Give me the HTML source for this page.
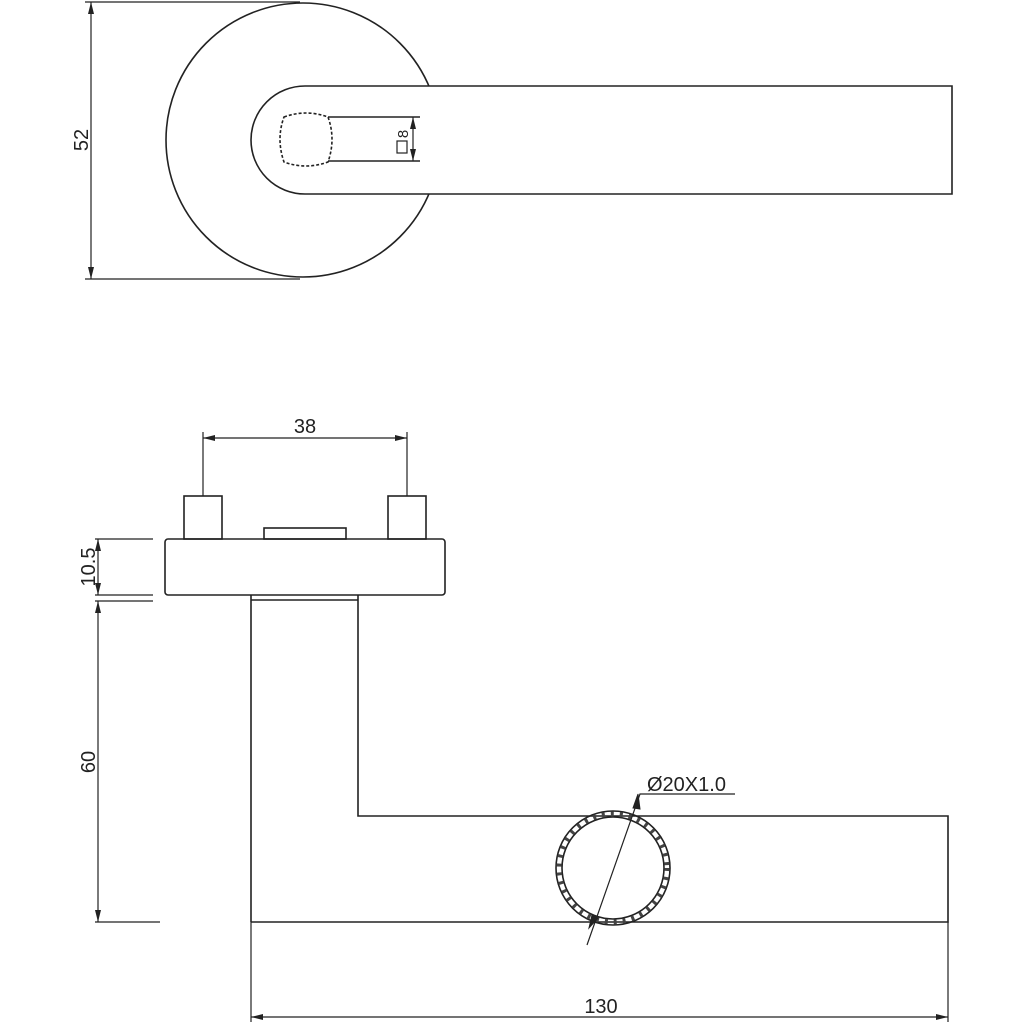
<!DOCTYPE html>
<html><head><style>html,body{margin:0;padding:0;background:#fff}svg{display:block}</style></head>
<body>
<svg width="1024" height="1024" viewBox="0 0 1024 1024" xmlns="http://www.w3.org/2000/svg" font-family="Liberation Sans, sans-serif">
<defs>
<marker id="a" viewBox="0 0 12 6" refX="12" refY="3" markerWidth="12" markerHeight="6" markerUnits="userSpaceOnUse" orient="auto-start-reverse"><path d="M0,0 L12,3 L0,6 Z" fill="#222"/></marker>
<mask id="m"><rect width="1024" height="1024" fill="#fff"/><path d="M960,86H305A54,54 0 0 0 305,194H960Z" fill="#000"/></mask>
</defs>
<g stroke="#222" stroke-width="1.6" fill="none">
<path d="M303,3A137,137 0 1 0 440,140" stroke="none"/>
<circle cx="303" cy="140" r="137" mask="url(#m)"/>
<path d="M952,86H305A54,54 0 0 0 305,194H952Z"/>
<path d="M284,117Q306,109 328,117Q336,139 328,162Q306,170 284,162Q276,139 284,117Z" stroke-dasharray="3,2"/>
<path d="M328,117H420M328,161H420"/>
<line x1="413" y1="117" x2="413" y2="161" marker-start="url(#a)" marker-end="url(#a)" stroke-width="1.2"/>
<rect x="397" y="141" width="10" height="12" stroke-width="1.2"/>
<path d="M85,2H300M85,279H300" stroke-width="1.2"/>
<line x1="91" y1="2" x2="91" y2="279" marker-start="url(#a)" marker-end="url(#a)" stroke-width="1.2"/>
<path d="M203,432V496M407,432V496" stroke-width="1.2"/>
<line x1="203" y1="438" x2="407" y2="438" marker-start="url(#a)" marker-end="url(#a)" stroke-width="1.2"/>
<rect x="184" y="496" width="38" height="43"/>
<rect x="388" y="496" width="38" height="43"/>
<rect x="264" y="528" width="82" height="11"/>
<rect x="165" y="539" width="280" height="56" rx="3"/>
<path d="M251,595V600H358V595M251,600V922M358,600V816H948V922H251"/>
<circle cx="613" cy="868" r="57"/>
<circle cx="613" cy="868" r="51"/>
<circle cx="613" cy="868" r="54" stroke-width="5" stroke-dasharray="3,6" stroke="#444"/>
<path d="M251,922V1022M948,922V1022" stroke-width="1.2"/>
<line x1="251" y1="1017" x2="948" y2="1017" marker-start="url(#a)" marker-end="url(#a)" stroke-width="1.2"/>
<path d="M95,539H153M95,595H153M95,601H153M95,922H160" stroke-width="1.2"/>
<line x1="98" y1="539" x2="98" y2="595" marker-start="url(#a)" marker-end="url(#a)" stroke-width="1.2"/>
<line x1="98" y1="601" x2="98" y2="922" marker-start="url(#a)" marker-end="url(#a)" stroke-width="1.2"/>
<path d="M735,794H640L587,945" stroke-width="1.2"/>
<path d="M633,808L638,794L640,809Z M589,928L592,915L598,918Z" fill="#222" stroke-width="1"/>
</g>
<g fill="#222" font-size="20">
<text x="305" y="433" text-anchor="middle">38</text>
<text x="601" y="1013" text-anchor="middle">130</text>
<text x="647" y="791">Ø20X1.0</text>
<text transform="translate(95,567) rotate(-90)" text-anchor="middle">10.5</text>
<text transform="translate(95,762) rotate(-90)" text-anchor="middle">60</text>
<text transform="translate(88,140) rotate(-90)" text-anchor="middle">52</text>
<text transform="translate(408,134) rotate(-90)" text-anchor="middle" font-size="15">8</text>
</g>
</svg>
</body></html>
